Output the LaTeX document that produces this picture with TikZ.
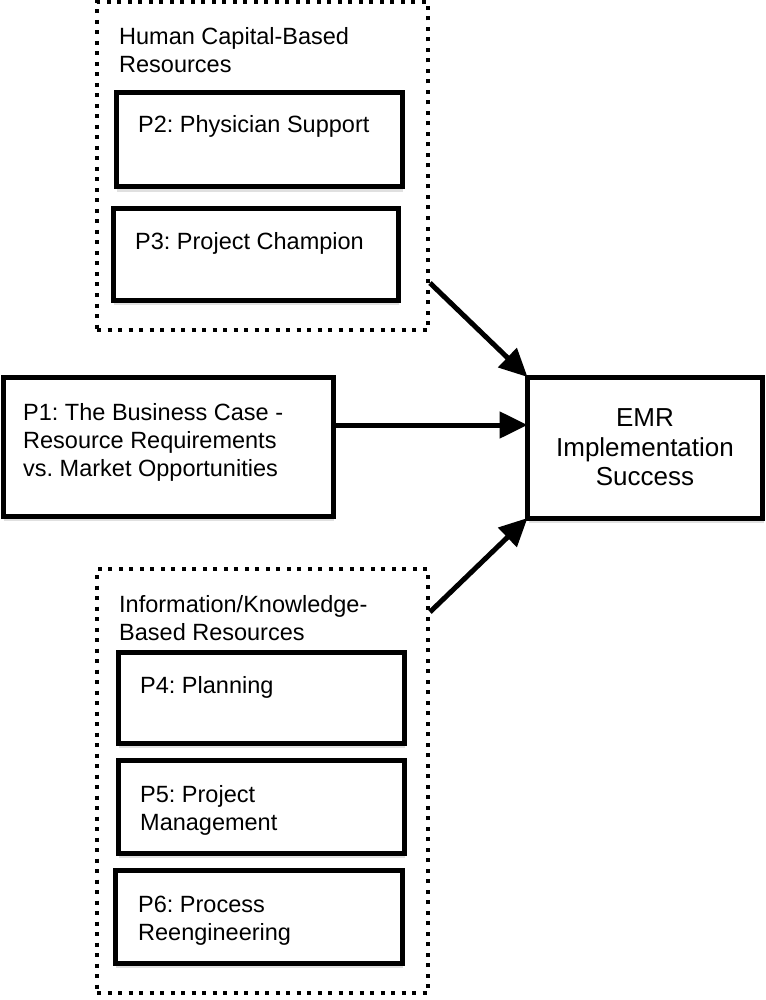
\documentclass[tikz,border=0pt]{standalone}
\usepackage{fontspec}
\setmainfont{Liberation Sans}
\usetikzlibrary{arrows.meta,shadows}
\begin{document}
\frenchspacing
\begin{tikzpicture}[x=1pt,y=-1pt,
  solidbox/.style={draw, line width=5pt, fill=white, inner sep=0pt, outer sep=0pt,
    drop shadow={shadow xshift=1pt, shadow yshift=-5pt, fill=black, opacity=0.12}},
  dotbox/.style={draw, line width=4pt, dash pattern=on 4pt off 6.5pt, inner sep=0pt, outer sep=0pt},
  lbl/.style={font=\fontsize{23.5}{28}\selectfont, inner sep=0pt, anchor=base west},
  conn/.style={line width=5pt, -{Triangle[length=28pt,width=26pt]}}]
\useasboundingbox (0,0) rectangle (765,1000);

% dotted group boxes
\node[dotbox, minimum width=331pt, minimum height=328pt] (hcb) at (262.5,166) {};
\node[dotbox, minimum width=331pt, minimum height=424pt] (ikb) at (262.5,781) {};

% solid boxes
\node[solidbox, minimum width=286pt, minimum height=94pt] (p2) at (259,140) {};
\node[solidbox, minimum width=285pt, minimum height=91pt] (p3) at (255.5,254.5) {};
\node[solidbox, minimum width=330pt, minimum height=139pt] (p1) at (168,446.5) {};
\node[solidbox, minimum width=235pt, minimum height=141pt, align=center,
      font=\fontsize{26}{29.5}\selectfont] (emr) at (645,447.5) {EMR\\Implementation\\Success};
\node[solidbox, minimum width=286pt, minimum height=91pt] (p4) at (261,697.5) {};
\node[solidbox, minimum width=286pt, minimum height=93pt] (p5) at (261,806.5) {};
\node[solidbox, minimum width=287pt, minimum height=93pt] (p6) at (258.5,916.5) {};

% texts
\node[lbl] (thcb) at (119,45) {\vtop{\hbox{Human Capital-Based}\hbox{Resources}}};
\node[lbl] (tp2) at (138,133) {P2: Physician Support};
\node[lbl] (tp3) at (135,250) {P3: Project Champion};
\node[lbl] (tp1) at (23,420) {\vtop{\hbox{P1: The Business Case -}\hbox{Resource Requirements}\hbox{vs. Market Opportunities}}};
\node[lbl] (tikb) at (119,612) {\vtop{\hbox{Information/Knowledge-}\hbox{Based Resources}}};
\node[lbl] (tp4) at (140,693) {P4: Planning};
\node[lbl] (tp5) at (140,802) {\vtop{\hbox{P5: Project}\hbox{Management}}};
\node[lbl] (tp6) at (138,912) {\vtop{\hbox{P6: Process}\hbox{Reengineering}}};

% connectors
\coordinate (s1) at (430,283);
\coordinate (s3) at (430,612);
\coordinate (mid) at (0,425);
\draw[conn] (s1) -- (emr.north west);
\draw[conn] (p1.east |- mid) -- (emr.west |- mid);
\draw[conn] (s3) -- (emr.south west);
\end{tikzpicture}
\end{document}
